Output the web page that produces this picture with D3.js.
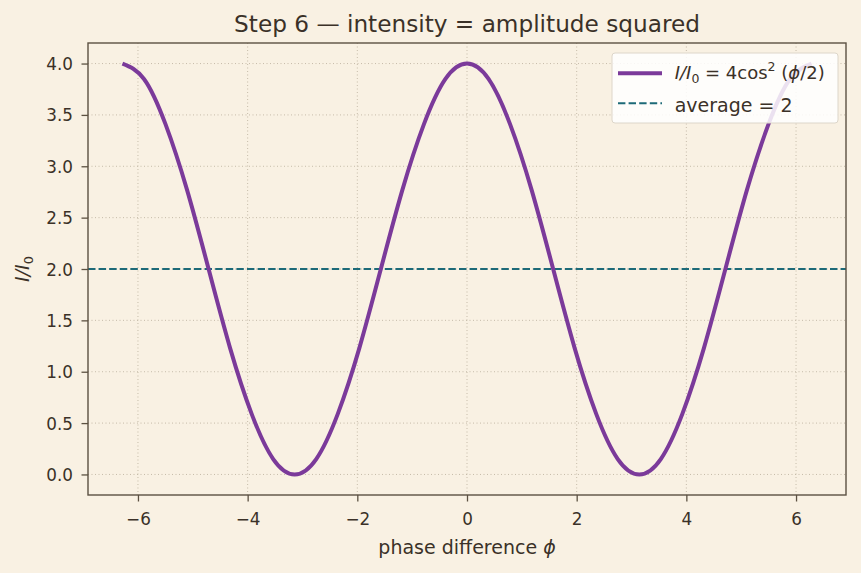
<!DOCTYPE html>
<html>
<head>
<meta charset="utf-8">
<script src="https://cdn.jsdelivr.net/npm/d3@7"></script>
<style>
  body { margin: 0; background: #f9f1e3; }
  svg { display: block; font-family: "DejaVu Sans", sans-serif; }
</style>
</head>
<body>
<svg id="chart" width="861" height="573"></svg>
<script>
const phase = [
  -6.283, -5.890, -5.498, -5.105, -4.712, -4.320, -3.927, -3.534, -3.142,
  -2.749, -2.356, -1.963, -1.571, -1.178, -0.785, -0.393, 0,
  0.393, 0.785, 1.178, 1.571, 1.963, 2.356, 2.749, 3.142,
  3.534, 3.927, 4.320, 4.712, 5.105, 5.498, 5.890, 6.283
];
const intensity = [
  4.00, 3.85, 3.41, 2.77, 2.00, 1.23, 0.59, 0.15, 0.00,
  0.15, 0.59, 1.23, 2.00, 2.77, 3.41, 3.85, 4.00,
  3.85, 3.41, 2.77, 2.00, 1.23, 0.59, 0.15, 0.00,
  0.15, 0.59, 1.23, 2.00, 2.77, 3.41, 3.85, 4.00
];
const average = 2;
const xTicks = [-6, -4, -2, 0, 2, 4, 6];
const yTicks = [0, 0.5, 1, 1.5, 2, 2.5, 3, 3.5, 4];

const ink = "#3b3128";
const spine = "#5c5142";
const purple = "#7b3a9a";
const teal = "#1d6a78";

const svg = d3.select("#chart");
const m = {left: 88, right: 846, top: 43, bottom: 495};

const x = d3.scaleLinear().domain([-6.911, 6.911]).range([m.left, m.right]);
const y = d3.scaleLinear().domain([-0.2, 4.2]).range([m.bottom, m.top]);

svg.append("rect").attr("width", 861).attr("height", 573).attr("fill", "#f9f1e3");

// grid
const grid = svg.append("g").attr("stroke", "#bfb5a3").attr("stroke-width", 0.9)
  .attr("stroke-dasharray", "1,2.5");
grid.selectAll(".gx").data(xTicks).join("line")
  .attr("x1", d => x(d)).attr("x2", d => x(d)).attr("y1", m.top).attr("y2", m.bottom);
grid.selectAll(".gy").data(yTicks).join("line")
  .attr("x1", m.left).attr("x2", m.right).attr("y1", d => y(d)).attr("y2", d => y(d));

// average line
svg.append("line")
  .attr("x1", m.left).attr("x2", m.right)
  .attr("y1", y(average)).attr("y2", y(average))
  .attr("stroke", teal).attr("stroke-width", 2).attr("stroke-dasharray", "7.4,3.2");

// intensity curve
const pts = phase.map((p, i) => [p, intensity[i]]);
svg.append("path")
  .datum(pts)
  .attr("fill", "none")
  .attr("stroke", purple)
  .attr("stroke-width", 4)
  .attr("d", d3.line().x(d => x(d[0])).y(d => y(d[1])).curve(d3.curveNatural));

// axes
const xAxis = svg.append("g").attr("transform", `translate(0,${m.bottom})`)
  .call(d3.axisBottom(x).tickValues(xTicks).tickSize(6.5).tickPadding(6)
    .tickFormat(d => d < 0 ? "\u2212" + Math.abs(d) : d));
const yAxis = svg.append("g").attr("transform", `translate(${m.left},0)`)
  .call(d3.axisLeft(y).tickValues(yTicks).tickSize(6.5).tickPadding(8.5).tickFormat(d3.format(".1f")));
for (const a of [xAxis, yAxis]) {
  a.select(".domain").remove();
  a.selectAll("line").attr("stroke", spine).attr("stroke-width", 1.3);
  a.selectAll("text").attr("fill", ink).attr("font-size", 16.8).attr("font-family", "DejaVu Sans");
}
xAxis.selectAll("text").attr("dy", null).attr("y", 30);
yAxis.selectAll("text").attr("dy", "0.36em");

svg.append("rect")
  .attr("x", m.left).attr("y", m.top)
  .attr("width", m.right - m.left).attr("height", m.bottom - m.top)
  .attr("fill", "none").attr("stroke", spine).attr("stroke-width", 1.4);

// title and labels
svg.append("text").attr("x", (m.left + m.right) / 2).attr("y", 31.5)
  .attr("text-anchor", "middle").attr("font-size", 23.2).attr("fill", ink)
  .text("Step 6 \u2014 intensity = amplitude squared");

const xl = svg.append("text").attr("x", (m.left + m.right) / 2).attr("y", 554)
  .attr("text-anchor", "middle").attr("font-size", 19).attr("fill", ink);
xl.append("tspan").text("phase difference ");
xl.append("tspan").attr("font-style", "italic").text("\u03d5");

const yl = svg.append("text").attr("transform", `translate(29,${y(2)}) rotate(-90)`)
  .attr("text-anchor", "middle").attr("font-size", 19).attr("fill", ink);
yl.append("tspan").attr("font-style", "italic").text("I/I");
yl.append("tspan").attr("font-size", 13).attr("dy", 4).text("0");

// legend
const lg = svg.append("g").attr("transform", "translate(612,53)");
lg.append("rect").attr("width", 226).attr("height", 70).attr("rx", 3)
  .attr("fill", "#ffffff").attr("fill-opacity", 0.85)
  .attr("stroke", "#ddd6ca").attr("stroke-width", 1);
lg.append("line").attr("x1", 6).attr("x2", 50).attr("y1", 20.3).attr("y2", 20.3)
  .attr("stroke", purple).attr("stroke-width", 4);
lg.append("line").attr("x1", 6).attr("x2", 50).attr("y1", 50.3).attr("y2", 50.3)
  .attr("stroke", teal).attr("stroke-width", 2).attr("stroke-dasharray", "7.4,3.2");

const t1 = lg.append("text").attr("x", 62.7).attr("y", 26.3).attr("font-size", 18).attr("fill", ink);
t1.append("tspan").attr("font-style", "italic").text("I/I");
t1.append("tspan").attr("font-size", 12.5).attr("dy", 4).text("0");
t1.append("tspan").attr("dy", -4).text(" = 4cos");
t1.append("tspan").attr("font-size", 12.5).attr("dy", -8).text("2");
t1.append("tspan").attr("dy", 8).text(" (");
t1.append("tspan").attr("font-style", "italic").text("\u03d5");
t1.append("tspan").text("/2)");

lg.append("text").attr("x", 62.7).attr("y", 58.7).attr("font-size", 19).attr("fill", ink)
  .text("average = 2");
</script>
</body>
</html>
